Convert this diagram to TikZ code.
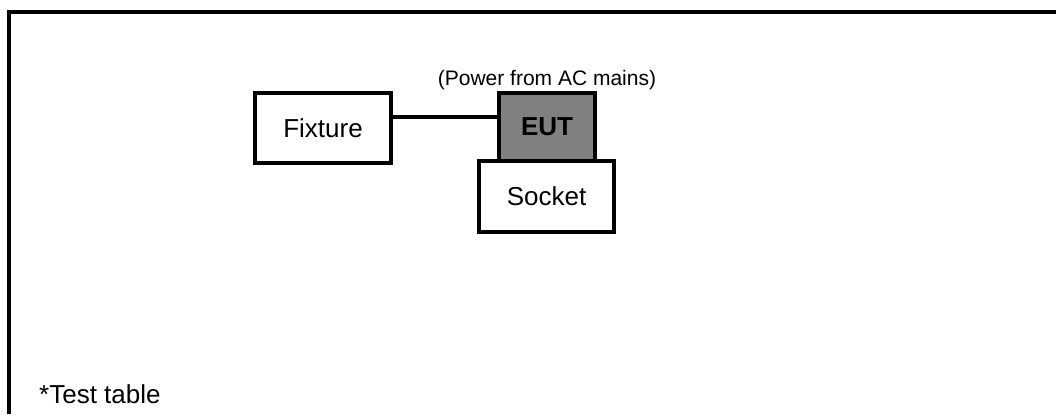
\documentclass[tikz,border=0pt]{standalone}
\usepackage{fontspec}
\setmainfont{Liberation Sans}
\begin{document}
\begin{tikzpicture}[x=1bp,y=-1bp,
  box/.style={draw=black, line width=3.5bp, rectangle, inner sep=0pt, outer sep=0pt, fill=white,
    font=\fontsize{26bp}{30bp}\selectfont},
  frame/.style={draw=black, line width=4bp},
  conn/.style={draw=black, line width=3.5bp},
  small/.style={inner sep=0pt, font=\fontsize{21bp}{25bp}\selectfont},
  big/.style={inner sep=0pt, font=\fontsize{26bp}{30bp}\selectfont}]
\useasboundingbox (0,0) rectangle (1056,414);
\coordinate (ftop) at (1056,12);
\coordinate (fcorner) at (9,12);
\coordinate (fbottom) at (9,414);
\draw[frame] (ftop) -- (fcorner) -- (fbottom);
\node[box, minimum width=136bp, minimum height=70bp] (fixture) at (323,128) {Fixture};
\node[box, fill={rgb,255:red,128;green,128;blue,128}, minimum width=96bp, minimum height=68bp,
  font=\fontsize{26bp}{30bp}\selectfont\bfseries] (eut) at (547,127) {EUT};
\node[box, minimum width=135bp, minimum height=71bp] (socket) at (546.5,196.5) {Socket};
\draw[conn] ([yshift=11bp]fixture.east) -- ([yshift=11bp]fixture.east -| eut.west);
\node[small] (power) at (547,80) {(Power from AC mains)};
\node[big, anchor=base west] (table) at (39,403) {*Test table};
\end{tikzpicture}
\end{document}
